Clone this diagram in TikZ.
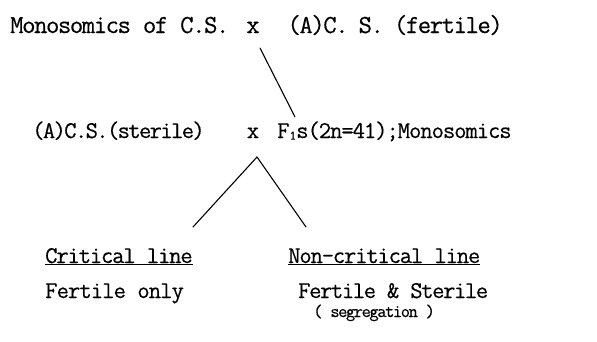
\documentclass[tikz,border=0pt]{standalone}
\usepackage{fontspec}
\newfontfamily\tw{Latin Modern Mono}[FakeBold=0.4]
\begin{document}
\begin{tikzpicture}[x=1pt,y=-1pt,
  lab/.style={inner sep=0pt},
  big/.style={lab,font=\tw\fontsize{26}{26}\selectfont\addfontfeatures{LetterSpace=#1}},
  mid/.style={lab,font=\tw\fontsize{24}{24}\selectfont\addfontfeatures{LetterSpace=#1}},
  sml/.style={lab,font=\tw\fontsize{18}{18}\selectfont\addfontfeatures{LetterSpace=-8}},
  link/.style={line width=1.1pt,line cap=round}]
\useasboundingbox (0,0) rectangle (597,341);
% line 1
\node[big=-5.6,anchor=base west] (mono) at (10,33) {Monosomics of C.S.};
\node[big=0,anchor=base] (x1) at (253,33) {x};
\node[big=-5.6,anchor=base east] (fert) at (503,33) {(A)C.\hspace{10pt}S.\hspace{10pt}(fertile)};
% line 2
\node[mid=-7,anchor=base west] (ster) at (32,138) {(A)C.S.(sterile)};
\node[mid=0,anchor=base] (x2) at (253,138) {x};
\node[mid=-4.5,anchor=base west] (f1) at (277,138) {F\raisebox{-0.15ex}{\fontsize{13}{13}\selectfont 1}s(2n=41);Monosomics};
% line 3
\node[mid=-5,anchor=base west] (crit) at (45,263) {\underline{Critical line}};
\node[mid=-5,anchor=base west] (noncrit) at (288,263) {\underline{Non-critical line}};
\node[mid=-4,anchor=base west] (fonly) at (45,298) {Fertile only};
\node[mid=-6,anchor=base west] (fs) at (298,298) {Fertile \& Sterile};
\node[sml,anchor=base west] (seg) at (313,317) {( segregation )};
% connectors
\coordinate (a1) at (260,48);
\coordinate (a2) at (295,117);
\draw[link] (a1) -- (a2);
\coordinate (apex) at (257,157);
\coordinate (lend) at (193,227);
\coordinate (rend) at (306,227);
\draw[link] (lend) -- (apex) -- (rend);
\end{tikzpicture}
\end{document}
